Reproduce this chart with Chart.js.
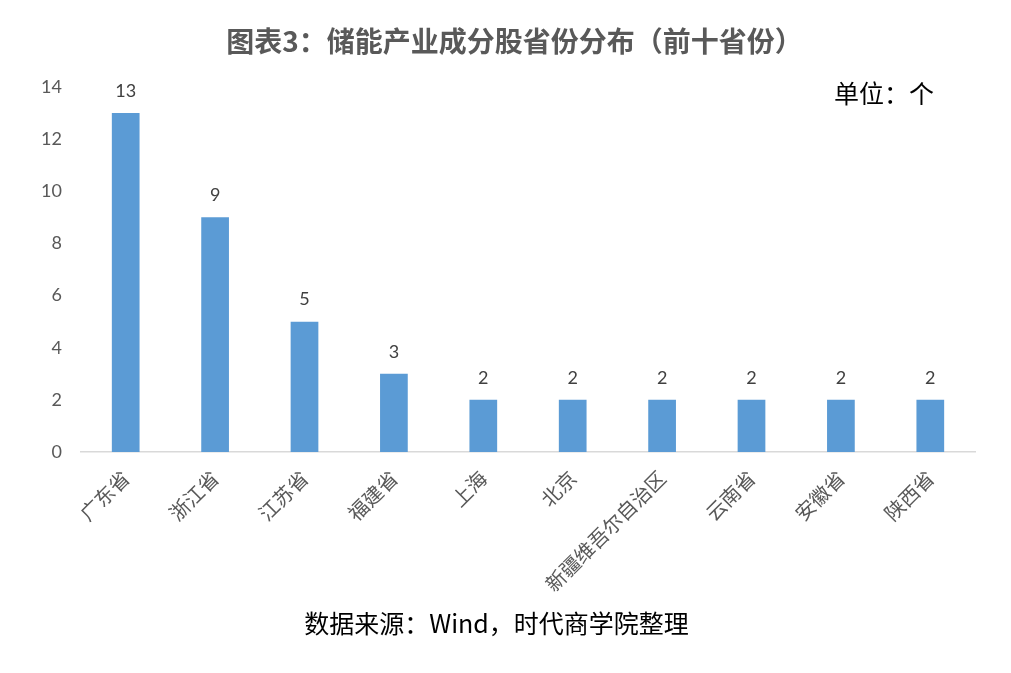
<!DOCTYPE html>
<html>
<head>
<meta charset="utf-8">
<script src="https://cdn.jsdelivr.net/npm/chart.js@4.4.1/dist/chart.umd.min.js"></script>
<style>
    html, body { margin: 0; padding: 0; background: #fff; }
    #wrap { position: relative; width: 1011px; height: 673px; }
    #chart { position: absolute; left: 0; top: 0; }
    .txt { position: absolute; white-space: nowrap; font-family: "Noto Sans CJK SC", sans-serif; }
    #title { left: 9px; width: 1011px; top: 20px; text-align: center; font-size: 28px; font-weight: bold; color: #595959; }
    #unit { left: 834px; top: 74px; font-size: 25px; color: #000; }
    #source { left: 0; width: 993px; top: 604px; text-align: center; font-size: 25px; color: #000; }
</style>
</head>
<body>
<div id="wrap">
    <canvas id="chart" width="1011" height="673"></canvas>
    <div class="txt" id="title">图表3：储能产业成分股省份分布（前十省份）</div>
    <div class="txt" id="unit">单位：个</div>
    <div class="txt" id="source">数据来源：Wind，时代商学院整理</div>
</div>
<script>
// Write your JavaScript code.

const provinces = ['广东省', '浙江省', '江苏省', '福建省', '上海', '北京', '新疆维吾尔自治区', '云南省', '安徽省', '陕西省'];
const stockCounts = [13, 9, 5, 3, 2, 2, 2, 2, 2, 2];
const yTicks = [0, 2, 4, 6, 8, 10, 12, 14];

// value labels above each bar
const barValues = {
    id: 'barValues',
    afterDatasetsDraw(chart) {
        const ctx = chart.ctx;
        const meta = chart.getDatasetMeta(0);
        ctx.save();
        ctx.font = '18px Lato, "Noto Sans", sans-serif';
        ctx.fillStyle = '#404040';
        ctx.textAlign = 'center';
        ctx.textBaseline = 'bottom';
        meta.data.forEach((bar, i) => {
            ctx.fillText(String(stockCounts[i]), bar.x, bar.y - 13);
        });
        ctx.restore();
    }
};

function showChart() {
    const canvas = document.getElementById('chart');

    if (!(canvas instanceof HTMLCanvasElement)) {
        throw new TypeError('Cannot load the chart.');
    }

    const data = {
        labels: provinces,
        datasets: [{
            label: '成分股数量',
            backgroundColor: '#5B9BD5',
            borderWidth: 0,
            barPercentage: 0.31,
            categoryPercentage: 1,
            data: stockCounts
        }],
    };

    const chart = new Chart(canvas, {
        type: 'bar',
        data: data,
        plugins: [barValues],
        options: {
            responsive: false,
            animation: false,
            layout: {
                padding: { top: 87, left: 0, right: 36, bottom: 71 }
            },
            plugins: {
                legend: { display: false },
                tooltip: { enabled: false }
            },
            scales: {
                x: {
                    afterFit: (scale) => { scale.height = 150; },
                    grid: { display: false, drawTicks: false },
                    border: { display: true, color: '#D9D9D9', width: 1.5 },
                    ticks: {
                        maxRotation: 45,
                        minRotation: 45,
                        autoSkip: false,
                        padding: 14,
                        color: '#595959',
                        font: { size: 20, family: '"Noto Sans CJK SC", sans-serif' }
                    }
                },
                y: {
                    min: 0,
                    max: 14,
                    afterFit: (scale) => { scale.width = 81; },
                    afterBuildTicks: (scale) => { scale.ticks = yTicks.map(v => ({ value: v })); },
                    grid: { display: false, drawTicks: false },
                    border: { display: false },
                    ticks: {
                        padding: 19,
                        color: '#595959',
                        font: { size: 18, family: 'Lato, "Noto Sans", sans-serif' }
                    }
                }
            }
        },
    });
}

showChart();
</script>
</body>
</html>
